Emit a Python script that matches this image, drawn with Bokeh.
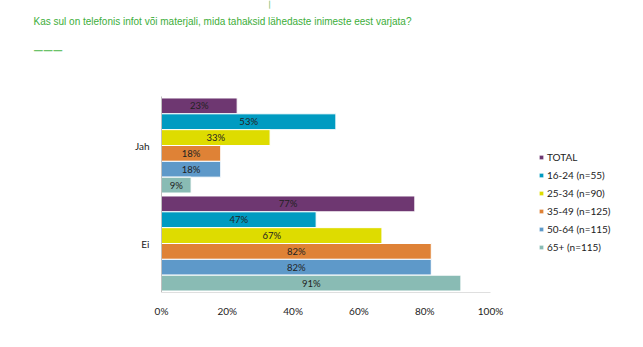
from bokeh.plotting import figure
from bokeh.models import Range1d, Legend, LegendItem, Label, ColumnDataSource, FixedTicker
from bokeh.core.properties import value
from bokeh.embed import file_html
from bokeh.resources import INLINE

title_text = "Kas sul on telefonis infot või materjali, mida tahaksid lähedaste inimeste eest varjata?"
categories = ["Ei", "Jah"]
series = ["TOTAL", "16-24 (n=55)", "25-34 (n=90)", "35-49 (n=125)", "50-64 (n=115)", "65+ (n=115)"]
jah = [23, 53, 33, 18, 18, 9]
ei = [77, 47, 67, 82, 82, 91]
colors = ["#6E3771", "#009BC1", "#DEDC00", "#DF8236", "#5E99C9", "#89BBB4"]
x_ticks = [0, 20, 40, 60, 80, 100]

FONT = "Lato"
W, H = 643, 347
FL, FB, FR = 30, 292, 638     # frame left / bottom / right (canvas px); frame top = 0
PX0, PX100 = 161, 490         # canvas x of 0% and 100%
PITCH = 98                    # px per category
ppu = (PX100 - PX0) / 100.0
x_start = -(PX0 - FL) / ppu
x_end = (FR - PX0) / ppu
y_start = -0.5
y_end = FB / PITCH - 0.5

p = figure(width=W, height=H, output_backend="svg", toolbar_location=None,
           x_range=Range1d(x_start, x_end), y_range=Range1d(y_start, y_end),
           min_border_left=FL, min_border_right=W - FR, min_border_top=0,
           min_border_bottom=H - FB)
p.outline_line_color = None
p.xgrid.grid_line_color = None
p.ygrid.grid_line_color = None

cat_pos = list(range(len(categories)))
n = len(series)
bh = 0.97 / n
items = []
for i, name in enumerate(series):
    off = 0.485 - bh / 2 - i * bh
    vals = [ei[i], jah[i]]
    src = ColumnDataSource(dict(y=[c + off for c in cat_pos], v=vals, mid=[v / 2 for v in vals],
                                lab=[f"{v}%" for v in vals]))
    r = p.hbar(y="y", left=0, right="v", height=bh, source=src,
               fill_color=colors[i], line_color="white", line_width=1)
    p.text(x="mid", y="y", text="lab", source=src, text_align="center",
           text_baseline="middle", text_font_size="9.5px", text_font=value(FONT),
           text_color="#222222")
    items.append(LegendItem(label=name, renderers=[r]))

# axis baselines: x from 0% to 100%, y across the category band
p.segment(x0=[x_ticks[0]], x1=[x_ticks[-1]], y0=[cat_pos[0] - 0.5], y1=[cat_pos[0] - 0.5],
          line_color="#BFBFBF", line_width=1)
p.segment(x0=[x_ticks[0]], x1=[x_ticks[0]], y0=[cat_pos[0] - 0.5], y1=[cat_pos[-1] + 0.5],
          line_color="#BFBFBF", line_width=1)

legend = Legend(items=items, location=(538 - FL, 36), glyph_width=6, glyph_height=6,
                label_height=18, spacing=0, padding=0, margin=0,
                label_text_font_size="10px", label_text_font=FONT, label_text_color="#222222",
                label_standoff=3, border_line_color=None, background_fill_alpha=0)
p.add_layout(legend, "center")

p.xaxis.ticker = FixedTicker(ticks=x_ticks)
p.xaxis.major_label_overrides = {t: f"{t}%" for t in x_ticks}
p.xaxis.major_tick_line_color = None
p.xaxis.minor_tick_line_color = None
p.xaxis.axis_line_color = None
p.xaxis.major_label_text_font = FONT
p.xaxis.major_label_text_font_size = "10px"
p.xaxis.major_label_text_color = "#222222"
p.xaxis.major_label_standoff = 6

p.yaxis.fixed_location = 0
p.yaxis.ticker = FixedTicker(ticks=cat_pos)
p.yaxis.major_label_overrides = {c: lab for c, lab in zip(cat_pos, categories)}
p.yaxis.major_tick_line_color = None
p.yaxis.minor_tick_line_color = None
p.yaxis.axis_line_color = None
p.yaxis.major_label_text_font = FONT
p.yaxis.major_label_text_font_size = "10px"
p.yaxis.major_label_text_color = "#222222"
p.yaxis.major_label_standoff = 6

p.add_layout(Label(x=33 - FL, y=FB - 21, x_units="screen", y_units="screen", text=title_text,
                   text_color="#3DAE3A", text_font_size="10px", text_font="Liberation Sans",
                   text_baseline="alphabetic"))
p.add_layout(Label(x=33 - FL, y=FB - 50, x_units="screen", y_units="screen", text="———",
                   text_color="#6CC26A", text_font_size="9.7px", text_font="DejaVu Sans",
                   text_font_style="bold", text_baseline="middle"))
p.add_layout(Label(x=269 - FL, y=FB, x_units="screen", y_units="screen", text="│",
                   text_color="#3DAE3A", text_font_size="7px", text_font="DejaVu Sans",
                   text_baseline="top", text_align="center"))

open("out.html", "w").write(file_html(p, INLINE))
